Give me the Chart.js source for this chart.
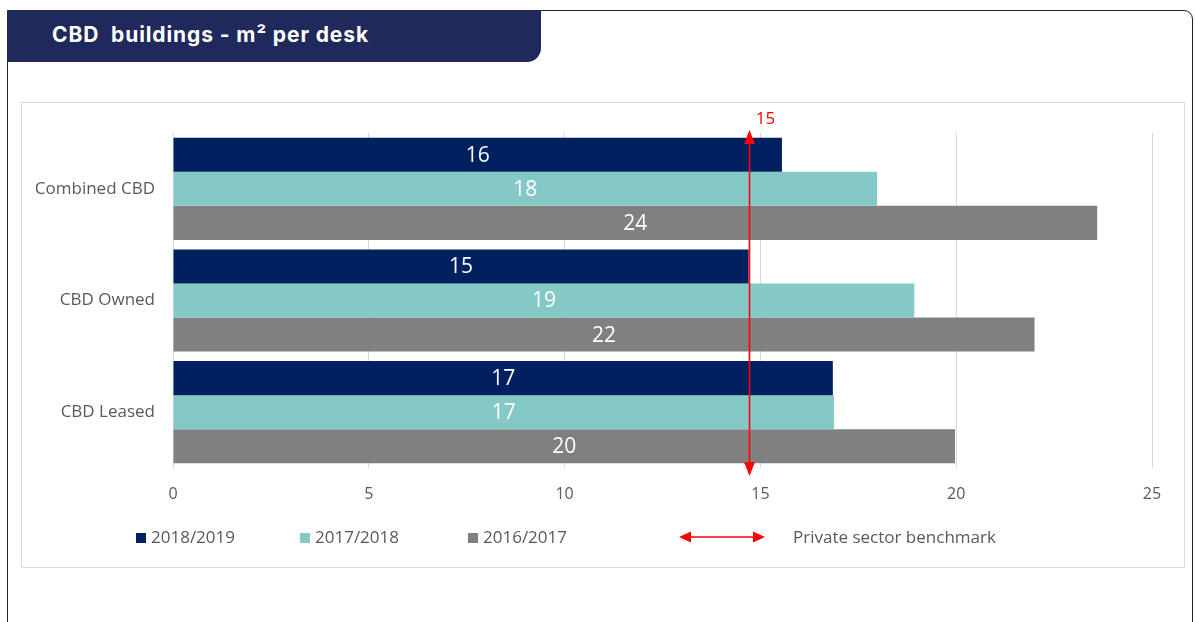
<!DOCTYPE html>
<html>
<head>
<meta charset="utf-8">
<script src="https://cdn.jsdelivr.net/npm/chart.js@4"></script>
<style>
  body { margin: 0; width: 1195px; height: 622px; background: #fff; overflow: hidden; position: relative; font-family: "Open Sans", sans-serif; }
  .frame { position: absolute; left: 7px; top: 10px; width: 1186px; height: 640px; border: 1.5px solid #222; border-radius: 0 9px 0 0; box-sizing: border-box; }
  .banner { position: absolute; left: 7px; top: 10px; width: 534px; height: 52px; background: #1f295b; border-bottom-right-radius: 14px; border-top-left-radius: 2px; }
  .banner span { position: absolute; left: 45px; top: 12px; color: #fff; font: bold 21px Inter, sans-serif; white-space: pre; letter-spacing: 0.9px; }
  .box { position: absolute; left: 21px; top: 102px; width: 1164px; height: 466px; border: 1px solid #dcdcdc; box-sizing: border-box; }
  .chartWrap { position: absolute; left: 21px; top: 102px; width: 1164px; height: 466px; }
  .legend { position: absolute; top: 525px; font-size: 17px; color: #595959; white-space: nowrap; }
  .legend i { display: inline-block; width: 10px; height: 10px; margin-right: 5px; vertical-align: 0px; }
</style>
</head>
<body>
<div class="frame"></div>
<div class="banner"><span>CBD  buildings - m² per desk</span></div>
<div class="box"></div>
<div class="chartWrap"><canvas id="deskChart"></canvas></div>
<div id="legend"></div>
<script>
// Data
const categories = ['Combined CBD', 'CBD Owned', 'CBD Leased'];
const seriesNames = ['2018/2019', '2017/2018', '2016/2017'];
const values2018 = [15.55, 14.7, 16.85];
const values2017 = [17.98, 18.93, 16.88];
const values2016 = [23.6, 22.0, 19.97];
const labels2018 = ['16', '15', '17'];
const labels2017 = ['18', '19', '17'];
const labels2016 = ['24', '22', '20'];
const xTicks = [0, 5, 10, 15, 20, 25];
const benchmarkValue = 14.7;
const benchmarkLabel = '15';
const benchmarkName = 'Private sector benchmark';

const colors = ['#002060', '#85c9c7', '#808080'];

// bar value labels in the middle of each bar
const barLabels = {
  id: 'barLabels',
  afterDatasetsDraw(chart) {
    const ctx = chart.ctx;
    ctx.save();
    ctx.fillStyle = '#fff';
    ctx.font = '21px "Open Sans"';
    ctx.textAlign = 'center';
    ctx.textBaseline = 'middle';
    chart.data.datasets.forEach((ds, i) => {
      chart.getDatasetMeta(i).data.forEach((bar, j) => {
        ctx.fillText(ds.valueLabels[j], (bar.x + bar.base) / 2, bar.y + 1);
      });
    });
    ctx.restore();
  }
};

function arrowHead(ctx, x, y, dir) {
  ctx.beginPath();
  ctx.moveTo(x, y);
  ctx.lineTo(x - 5.5, y - dir * 14);
  ctx.lineTo(x + 5.5, y - dir * 14);
  ctx.closePath();
  ctx.fill();
}

// red benchmark double arrow
const benchmark = {
  id: 'benchmark',
  afterDraw(chart) {
    const ctx = chart.ctx;
    const x = Math.round(chart.scales.x.getPixelForValue(benchmarkValue)) + 0.5;
    const top = chart.chartArea.top - 3;
    const bottom = chart.chartArea.bottom + 8;
    ctx.save();
    ctx.strokeStyle = '#ff0000';
    ctx.fillStyle = '#ff0000';
    ctx.lineWidth = 1.6;
    ctx.beginPath();
    ctx.moveTo(x, top + 8);
    ctx.lineTo(x, bottom - 8);
    ctx.stroke();
    arrowHead(ctx, x, top, -1);
    arrowHead(ctx, x, bottom, 1);
    ctx.font = '17px "Open Sans"';
    ctx.textAlign = 'center';
    ctx.textBaseline = 'middle';
    ctx.fillText(benchmarkLabel, x + 16, chart.chartArea.top - 14);
    ctx.restore();
  }
};

const ctx = document.getElementById('deskChart').getContext('2d');
const deskChart = new Chart(ctx, {
  type: 'bar',
  data: {
    labels: categories,
    datasets: [
      { label: seriesNames[0], data: values2018, valueLabels: labels2018, backgroundColor: colors[0] },
      { label: seriesNames[1], data: values2017, valueLabels: labels2017, backgroundColor: colors[1] },
      { label: seriesNames[2], data: values2016, valueLabels: labels2016, backgroundColor: colors[2] }
    ]
  },
  options: {
    indexAxis: 'y',
    responsive: true,
    maintainAspectRatio: false,
    animation: false,
    layout: { padding: { left: 15, right: 33, top: 31, bottom: 63 } },
    datasets: { bar: { categoryPercentage: 0.915, barPercentage: 1 } },
    plugins: { legend: { display: false }, tooltip: { enabled: false } },
    scales: {
      x: {
        min: 0, max: 25,
        afterBuildTicks(scale) { scale.ticks = xTicks.map(v => ({ value: v })); },
        afterFit(scale) { scale.height = 37; },
        grid: { color: '#d9d9d9', drawTicks: false },
        border: { display: false },
        ticks: { color: '#595959', font: { family: 'Open Sans', size: 16 }, padding: 17 }
      },
      y: {
        afterFit(scale) { scale.width = 137; },
        grid: { display: false, drawTicks: false },
        border: { display: true, color: '#d9d9d9' },
        ticks: { color: '#595959', font: { family: 'Open Sans', size: 17 }, padding: 18 }
      }
    }
  },
  plugins: [barLabels, benchmark]
});

// legend
const legendEl = document.getElementById('legend');
const legendX = [136, 300, 468];
seriesNames.forEach((name, i) => {
  const d = document.createElement('div');
  d.className = 'legend';
  d.style.left = legendX[i] + 'px';
  d.innerHTML = '<i style="background:' + colors[i] + '"></i>' + name;
  legendEl.appendChild(d);
});
const bm = document.createElement('div');
bm.className = 'legend';
bm.style.left = '679px';
bm.innerHTML = '<svg width="86" height="14" style="vertical-align:-1px;margin-right:28px">' +
  '<line x1="8" y1="7" x2="78" y2="7" stroke="#ff0000" stroke-width="1.5"/>' +
  '<polygon points="0,7 12,1.5 12,12.5" fill="#ff0000"/>' +
  '<polygon points="86,7 74,1.5 74,12.5" fill="#ff0000"/></svg>' + benchmarkName;
legendEl.appendChild(bm);
</script>
</body>
</html>
